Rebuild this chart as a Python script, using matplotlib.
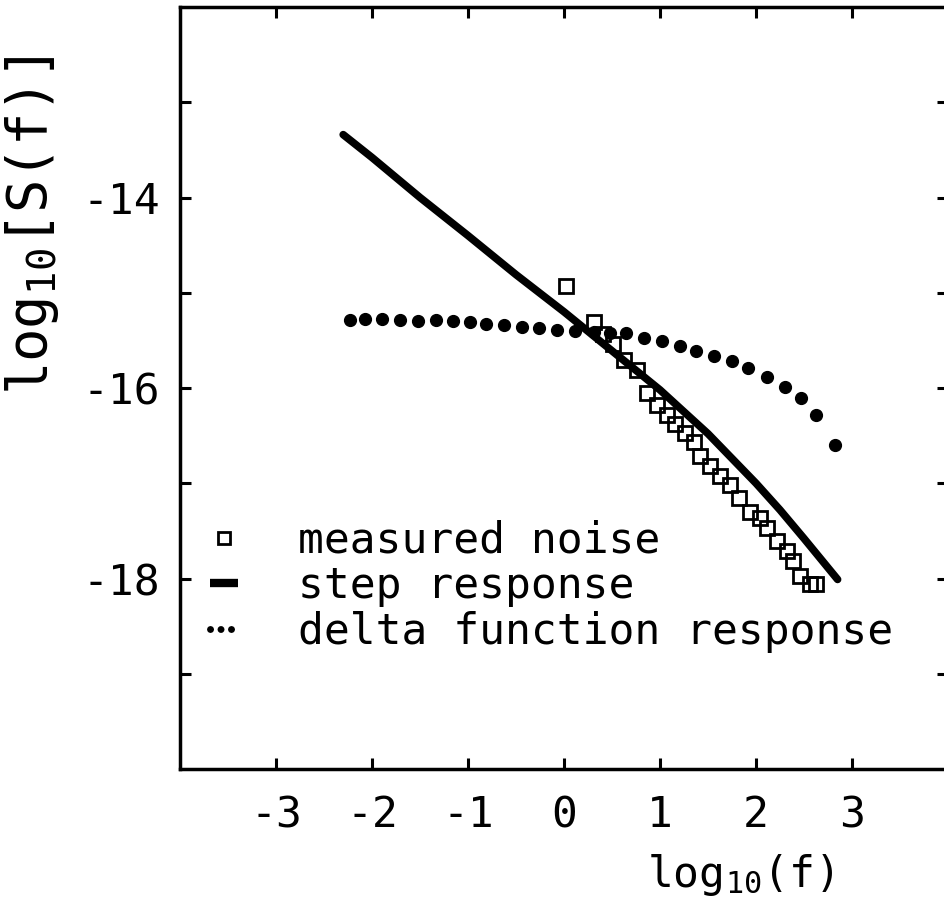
import matplotlib
matplotlib.use("Agg")
import matplotlib.pyplot as plt
from matplotlib.lines import Line2D

# values, log10(f) vs log10 S(f)
noise_x = [0.02, 0.31, 0.41, 0.51, 0.62, 0.76, 0.86, 0.97, 1.07, 1.16, 1.26, 1.35, 1.42,
           1.52, 1.63, 1.73, 1.82, 1.94, 2.04, 2.11, 2.22, 2.32, 2.39, 2.46, 2.56, 2.63]
noise_y = [-14.93, -15.31, -15.43, -15.54, -15.71, -15.81, -16.05, -16.18, -16.28, -16.38,
           -16.47, -16.57, -16.71, -16.82, -16.92, -17.02, -17.16, -17.30, -17.37, -17.47,
           -17.61, -17.71, -17.82, -17.97, -18.06, -18.06]

step_x = [-2.3, -2.0, -1.5, -1.0, -0.5, 0.0, 0.5, 1.0, 1.5, 2.0, 2.25, 2.5, 2.85]
step_y = [-13.34, -13.58, -14.0, -14.40, -14.81, -15.20, -15.61, -16.02, -16.48, -17.0,
          -17.28, -17.58, -18.01]

delta_x = [-2.23, -2.07, -1.90, -1.71, -1.52, -1.33, -1.16, -0.98, -0.81, -0.63, -0.44,
           -0.26, -0.07, 0.11, 0.31, 0.48, 0.65, 0.83, 1.02, 1.21, 1.38, 1.56, 1.75, 1.92,
           2.11, 2.30, 2.47, 2.63, 2.82]
delta_y = [-15.29, -15.28, -15.28, -15.29, -15.30, -15.29, -15.30, -15.31, -15.33, -15.34,
           -15.36, -15.37, -15.39, -15.40, -15.41, -15.42, -15.42, -15.47, -15.51, -15.56,
           -15.61, -15.66, -15.72, -15.79, -15.88, -15.99, -16.10, -16.28, -16.60]

xticks = [-3, -2, -1, 0, 1, 2, 3]
yticks = [-19, -18, -17, -16, -15, -14, -13]
ytick_labels = ['', '-18', '', '-16', '', '-14', '']
series_labels = ['measured noise', 'step response', 'delta function response']

plt.rcParams['font.family'] = ['DejaVu Sans Mono']
plt.rcParams['mathtext.fontset'] = 'custom'
plt.rcParams['mathtext.rm'] = 'DejaVu Sans Mono'
plt.rcParams['mathtext.it'] = 'DejaVu Sans Mono'
plt.rcParams['axes.unicode_minus'] = False

fig = plt.figure(figsize=(9.45, 9.15), dpi=100)
ax = fig.add_axes([180 / 945, 146 / 915, 768 / 945, 762 / 915])

ax.plot(delta_x, delta_y, 'o', color='black', ms=8.5, ls='none')
ax.plot(step_x, step_y, '-', color='black', lw=5.5,
        solid_capstyle='round', solid_joinstyle='round')
ax.plot(noise_x, noise_y, 's', mfc='none', mec='black', mew=2, ms=10, ls='none')

ax.set_xlim(-4, 4)
ax.set_ylim(-20, -12)
ax.set_xticks(xticks)
ax.set_yticks(yticks, ytick_labels)
ax.tick_params(direction='in', length=8, width=2.2, top=True, right=True, labelsize=31)
ax.tick_params(axis='x', pad=18)
ax.tick_params(axis='y', pad=14)
for sp in ax.spines.values():
    sp.set_linewidth(2.5)

fig.text(740 / 945, 1 - 875 / 915, r'log$_{10}$(f)', ha='center', va='center', fontsize=31)
fig.text(32 / 945, 1 - 226 / 915, r'log$_{10}$[S(f)]', ha='center', va='center',
         rotation=90, fontsize=40)

# legend keys drawn like the plotter symbols
h_noise = Line2D([], [], marker='s', ls='none', mfc='none', mec='black', mew=2, ms=9)
h_step = Line2D([], [], color='black', lw=6, solid_capstyle='butt')
h_delta = Line2D([], [], color='black', lw=5, ls=(0, (0.01, 1.5)), dash_capstyle='round')
ax.legend([h_noise, h_step, h_delta], series_labels, loc='upper left',
          bbox_to_anchor=(0.039, 0.327), frameon=False, fontsize=31,
          handlelength=0.65, handletextpad=1.4, labelspacing=0.08,
          borderpad=0, borderaxespad=0)

fig.savefig('out.png', dpi=100)
